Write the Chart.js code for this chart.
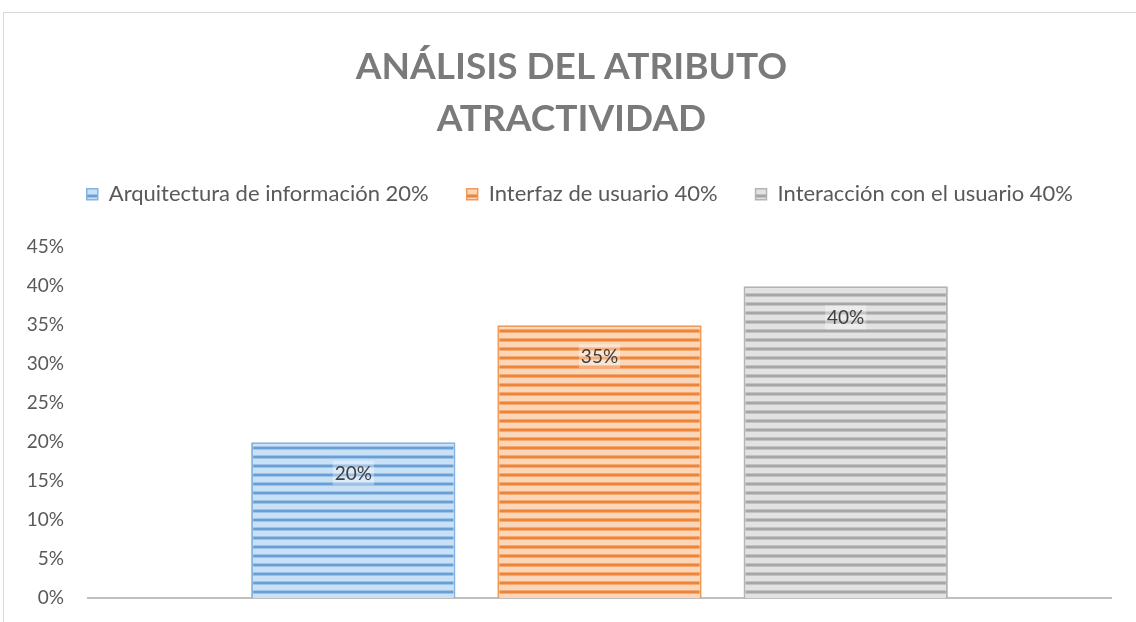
<!DOCTYPE html>
<html>
<head>
<meta charset="utf-8">
<script src="https://cdn.jsdelivr.net/npm/chart.js@4.4.1/dist/chart.umd.min.js"></script>
<style>
  html, body { margin: 0; padding: 0; background: #fff; }
  #wrap { width: 1136px; height: 622px; position: relative; }
</style>
</head>
<body>
<div id="wrap"><canvas id="chart" width="1136" height="622"></canvas></div>
<script>
'use strict';

const titleLines = ['ANÁLISIS DEL ATRIBUTO', 'ATRACTIVIDAD']
const seriesNames = ['Arquitectura de información 20%', 'Interfaz de usuario 40%', 'Interacción con el usuario 40%']
const seriesValues = [20, 35, 40]
const yTicks = [0, 5, 10, 15, 20, 25, 30, 35, 40, 45]

// striped fill, one pattern per series: [light, mid, dark]
const stripeColors = [
    ['#c9e1f7', '#9cc2e8', '#6a9fd4'],
    ['#fcd6b8', '#f4a970', '#ec8439'],
    ['#e2e2e2', '#c2c2c2', '#a6a6a6'],
]
const edgeColors = ['#86b3e0', '#f09a5a', '#b4b4b4']

function makeStripes(cols) {
    const c = document.createElement('canvas')
    c.width = 4
    c.height = 9
    const g = c.getContext('2d')
    g.fillStyle = cols[0]
    g.fillRect(0, 0, 4, 9)
    g.fillStyle = cols[1]
    g.fillRect(0, 5, 4, 1)
    g.fillRect(0, 8, 4, 1)
    g.fillStyle = cols[2]
    g.fillRect(0, 6, 4, 2)
    return g.createPattern(c, 'repeat')
}

// thin frame around the chart, and the title nudged to the frame's centre
const framePlugin = {
    id: 'frame',
    afterLayout(chart) {
        chart.titleBlock.left += 16
        chart.titleBlock.right += 16
    },
    beforeDraw(chart) {
        const ctx = chart.ctx
        ctx.save()
        ctx.strokeStyle = '#d9d9d9'
        ctx.lineWidth = 1
        ctx.strokeRect(3.5, 12.5, 1200, 700)
        ctx.restore()
    }
}

// value labels just under the top of each bar
const valueLabels = {
    id: 'valueLabels',
    afterDatasetsDraw(chart) {
        const ctx = chart.ctx
        ctx.save()
        ctx.font = '19px Lato'
        ctx.textAlign = 'center'
        ctx.textBaseline = 'middle'
        chart.data.datasets.forEach((ds, i) => {
            const bar = chart.getDatasetMeta(i).data[0]
            const txt = ds.data[0] + '%'
            const y = bar.y + 31
            const w = ctx.measureText(txt).width + 4
            ctx.fillStyle = 'rgba(255,255,255,0.35)'
            ctx.fillRect(bar.x - w / 2, y - 12, w, 24)
            ctx.fillStyle = '#404040'
            ctx.fillText(txt, bar.x, y + 1)
        })
        ctx.restore()
    }
}

function renderChart() {
    const datasets = []
    for (let i = 0; i < seriesNames.length; i++) {
        datasets.push({
            label: seriesNames[i],
            data: [seriesValues[i]],
            backgroundColor: makeStripes(stripeColors[i]),
            borderColor: edgeColors[i],
            borderWidth: { left: 2, right: 2, top: 2, bottom: 0 },
            borderSkipped: false,
        })
    }

    const config = {
        type: 'bar',
        data: { labels: [''], datasets: datasets },
        options: {
            responsive: false,
            animation: false,
            layout: { padding: { left: 0, right: 25, top: 41, bottom: 0 } },
            categoryPercentage: 0.722,
            barPercentage: 0.83,
            plugins: {
                title: {
                    display: true,
                    text: titleLines,
                    color: '#7a7a7a',
                    font: { family: 'Lato', size: 37, weight: 'bold', lineHeight: 1.41 },
                    padding: { top: 0, bottom: 0 },
                },
                // empty subtitle sits under the legend as spacing
                subtitle: {
                    display: true,
                    text: '',
                    weight: 500,
                    font: { size: 10, lineHeight: 1 },
                    padding: { top: 0, bottom: 22 },
                },
                legend: {
                    align: 'end',
                    labels: {
                        color: '#595959',
                        font: { family: 'Lato', size: 22 },
                        boxWidth: 11,
                        boxHeight: 11,
                        padding: 38,
                    },
                },
                tooltip: { enabled: false },
            },
            scales: {
                x: {
                    grid: { display: false, drawTicks: false },
                    border: { color: '#bfbfbf', width: 2 },
                    ticks: { display: false },
                    afterFit(scale) { scale.height = 24 },
                },
                y: {
                    min: 0,
                    max: 45,
                    weight: 1,
                    afterBuildTicks(scale) { scale.ticks = yTicks.map(v => ({ value: v })) },
                    grid: { display: false, drawTicks: false },
                    border: { display: false },
                    ticks: {
                        color: '#595959',
                        font: { family: 'Lato', size: 19 },
                        padding: 0,
                        callback: v => v + '%',
                    },
                    afterFit(scale) { scale.width = 64 },
                },
                // blank strip between the tick labels and the plot
                gap: {
                    type: 'linear',
                    position: 'left',
                    weight: 0,
                    grid: { display: false, drawTicks: false },
                    border: { display: false },
                    ticks: { display: false },
                    afterFit(scale) { scale.width = 24 },
                },
            },
        },
        plugins: [framePlugin, valueLabels],
    }

    new Chart(document.getElementById('chart'), config)
}

renderChart();
</script>
</body>
</html>
